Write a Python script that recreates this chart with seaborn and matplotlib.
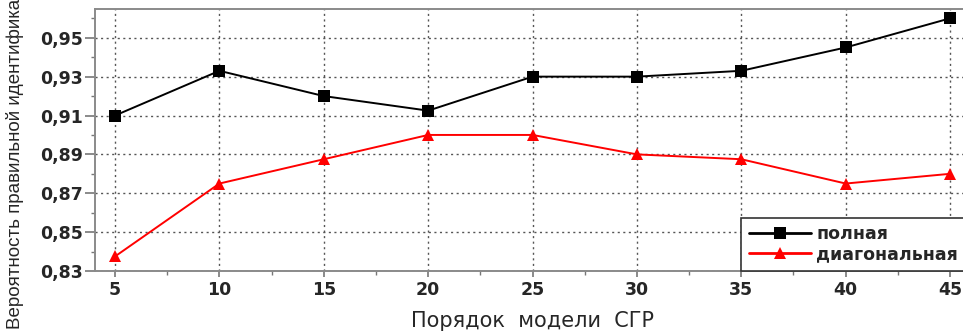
import numpy as np
import pandas as pd
import matplotlib
matplotlib.use("Agg")
import matplotlib.pyplot as plt
import seaborn as sns
from matplotlib.ticker import FuncFormatter, MultipleLocator

# Model order and identification probability for the two covariance types
orders = [5, 10, 15, 20, 25, 30, 35, 40, 45]
full_cov = [0.910, 0.933, 0.920, 0.9125, 0.930, 0.930, 0.933, 0.945, 0.960]
diag_cov = [0.8375, 0.875, 0.8875, 0.900, 0.900, 0.890, 0.8875, 0.875, 0.880]
series_names = ["полная", "диагональная"]
yticks = [0.83, 0.85, 0.87, 0.89, 0.91, 0.93, 0.95]
xticks = [5, 10, 15, 20, 25, 30, 35, 40, 45]

df = pd.DataFrame({
    "order": orders * 2,
    "prob": full_cov + diag_cov,
    "type": [series_names[0]] * len(orders) + [series_names[1]] * len(orders),
})

sns.set_style("white")
plt.rcParams["font.family"] = ["DejaVu Sans"]

W, H = 963, 333
fig = plt.figure(figsize=(W / 100, H / 100), dpi=100)
left_px, right_px, top_px, bottom_px = 95, 968, 9, 271
ax = fig.add_axes([left_px / W, 1 - bottom_px / H,
                   (right_px - left_px) / W, (bottom_px - top_px) / H])

sns.lineplot(data=df, x="order", y="prob", hue="type", style="type",
             palette={series_names[0]: "black", series_names[1]: "red"},
             markers={series_names[0]: "s", series_names[1]: "^"},
             dashes=False, markersize=8, markeredgewidth=0, linewidth=1.4,
             ax=ax, legend="full")

ax.set_xlim(4.04, 45.86)
ax.set_ylim(0.83, 0.9648)
ax.set_xticks(xticks)
ax.set_yticks(yticks)
ax.xaxis.set_minor_locator(MultipleLocator(2.5))
ax.yaxis.set_minor_locator(MultipleLocator(0.01))
ax.yaxis.set_major_formatter(FuncFormatter(lambda v, p: f"{v:.2f}".replace(".", ",")))

ax.grid(True, which="major", color="#555555", linestyle=(0, (1.5, 2.5)), linewidth=1.0)
ax.set_axisbelow(True)

for side in ["left", "bottom", "top", "right"]:
    ax.spines[side].set_color("#8a8a8a")
    ax.spines[side].set_linewidth(1.4)

ax.tick_params(axis="y", which="major", direction="out", length=7, width=1.2,
               color="#777777", labelsize=12.5, pad=2, left=True)
ax.tick_params(axis="x", which="major", direction="out", length=4, width=1.2,
               color="#777777", labelsize=12.5, pad=3, bottom=True)
ax.tick_params(axis="both", which="minor", direction="out", length=3, width=1.0,
               color="#777777", left=True, bottom=True)
for lab in ax.get_xticklabels() + ax.get_yticklabels():
    lab.set_fontweight("bold")

ax.set_xlabel("")
ax.set_ylabel("")
fig.text(532 / W, 1 - 321 / H, "Порядок  модели  СГР", ha="center", va="center",
         fontsize=15, family="DejaVu Sans")
fig.text(15 / W, 1 - 329 / H, "Вероятность правильной идентификации",
         rotation=90, ha="center", va="bottom", fontsize=13.5,
         family="Liberation Sans")

handles, labels = ax.get_legend_handles_labels()
leg = ax.legend(handles, labels, loc="lower right",
                bbox_to_anchor=(1.0 - 2 / (right_px - left_px), 0.0),
                frameon=True, fancybox=False, framealpha=1, edgecolor="#333333",
                handlelength=3.6, handletextpad=0.3, borderpad=0.45,
                labelspacing=0.1, borderaxespad=0.0,
                prop={"weight": "bold", "size": 12.5, "family": "DejaVu Sans"})
leg.get_frame().set_linewidth(1.2)
for h in leg.legend_handles:
    h.set_linewidth(2.0)

fig.savefig("out.png", dpi=100)
